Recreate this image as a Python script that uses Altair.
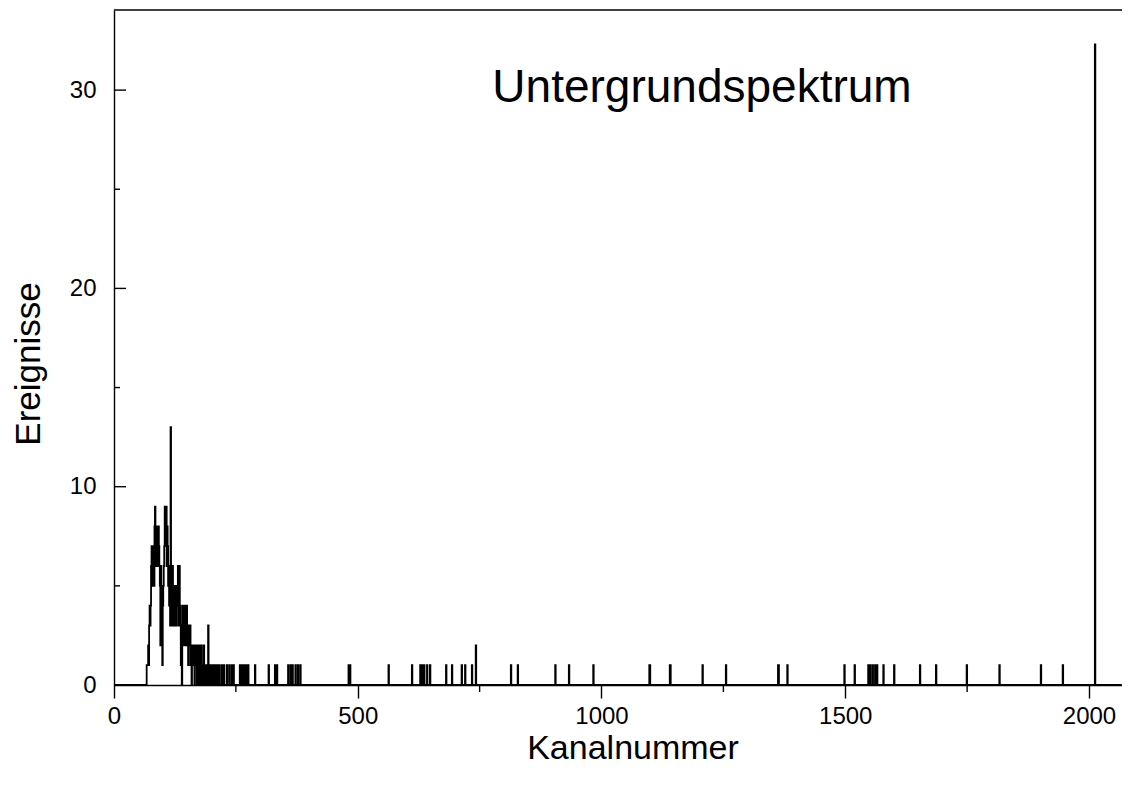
import altair as alt
import pandas as pd

# ---- data ----
TITLE = "Untergrundspektrum"
X_TITLE = "Kanalnummer"
Y_TITLE = "Ereignisse"

X_MAJOR = [0, 500, 1000, 1500, 2000]
X_MINOR = [250, 750, 1250, 1750]
Y_MAJOR = [0, 10, 20, 30]
Y_MINOR = [5, 15, 25]

# counts per channel in the dense low-energy region, starting at channel 66
DENSE_START = 66
DENSE_COUNTS = [
    0, 1, 1, 1, 2, 1, 3, 4, 3, 4,      # 66-75
    6, 7, 5, 7, 6, 7, 5, 8, 9, 6,      # 76-85
    7, 8, 7, 6, 7, 8, 7, 6, 5, 2,      # 86-95
    6, 4, 5, 1, 4, 5, 6, 7, 9, 7,      # 96-105
    8, 9, 6, 8, 7, 5, 6, 4, 5, 3,      # 106-115
    13, 4, 3, 5, 6, 3, 4, 5, 3, 4,     # 116-125
    5, 4, 3, 5, 4, 6, 4, 3, 6, 4,      # 126-135
    3, 1, 3, 0, 4, 3, 4, 2, 3, 4,      # 136-145
    3, 2, 3, 4, 2, 3, 1, 2, 3, 2,      # 146-155
    3, 1, 2, 0, 2, 1, 2, 1, 2, 0,      # 156-165
    1, 2, 1, 2, 0, 1, 2, 1, 0, 2,      # 166-175
    1, 0, 1, 2, 1, 0, 1, 0, 2, 1,      # 176-185
    0, 1, 0, 1, 0, 1, 0, 3, 1, 0,      # 186-195
    1, 0, 0, 1, 1, 0, 1, 1, 0, 1,      # 196-205
    1, 1, 0, 1, 1, 0, 1, 1, 1, 0,      # 206-215
    1, 0,                              # 216-217
]

# isolated events further up the spectrum
SPARSE_CHANNELS = [
    221, 225, 231, 236, 241, 245, 258, 261, 264, 268,
    272, 275, 289, 317, 330, 334, 357, 362, 366, 372,
    377, 382, 481, 484, 563, 611, 628, 632, 636, 642,
    648, 681, 693, 713, 720, 734, 742, 814, 828, 905,
    933, 983, 1098, 1099, 1140, 1141, 1207, 1255, 1362, 1363,
    1381, 1498, 1519, 1547, 1551, 1556, 1561, 1565, 1578, 1600,
    1653, 1686, 1749, 1816, 1901, 1946, 2012,
]
SPARSE_COUNTS = [
    1, 1, 1, 1, 1, 1, 1, 1, 1, 1,
    1, 1, 1, 1, 1, 1, 1, 1, 1, 1,
    1, 1, 1, 1, 1, 1, 1, 1, 1, 1,
    1, 1, 1, 1, 1, 1, 2, 1, 1, 1,
    1, 1, 1, 1, 1, 1, 1, 1, 1, 1,
    1, 1, 1, 1, 1, 1, 1, 1, 1, 1,
    1, 1, 1, 1, 1, 1, 32.3,
]

X_MAX = 2067.7
Y_MAX = 34.04
N_CHANNELS = 2068

# ---- build the channel table ----
counts = [0.0] * N_CHANNELS
for i, c in enumerate(DENSE_COUNTS):
    counts[DENSE_START + i] = c
for ch, c in zip(SPARSE_CHANNELS, SPARSE_COUNTS):
    counts[ch] = c
spec_df = pd.DataFrame({"Kanal": list(range(N_CHANNELS)), "Ereignisse": counts})

W, H = 1008, 675
FONT = "Liberation Sans"
LW = 1.4

xs = alt.Scale(domain=[0, X_MAX], nice=False, zero=False)
ys = alt.Scale(domain=[0, Y_MAX], nice=False, zero=False)

X_AXIS = alt.Axis(values=X_MAJOR, tickSize=13, labelPadding=6, title=None,
                  format="d", labelFlush=False, labelOverlap=False)
Y_AXIS = alt.Axis(values=Y_MAJOR, tickSize=0, labelPadding=18, title=None,
                  format="d", labelOverlap=False)

line = alt.Chart(spec_df).mark_line(
    interpolate="step-after", color="black", strokeWidth=1.8
).encode(
    x=alt.X("Kanal:Q", scale=xs, axis=X_AXIS),
    y=alt.Y("Ereignisse:Q", scale=ys, axis=Y_AXIS),
)

x_minor = alt.Chart(pd.DataFrame({"v": X_MINOR})).mark_rule(color="black", strokeWidth=LW).encode(
    x=alt.X("v:Q", scale=xs, axis=X_AXIS),
    y=alt.value(H),
    y2=alt.value(H + 7),
)

y_major = alt.Chart(pd.DataFrame({"v": Y_MAJOR})).mark_rule(color="black", strokeWidth=LW).encode(
    y=alt.Y("v:Q", scale=ys, axis=Y_AXIS),
    x=alt.value(0),
    x2=alt.value(12),
)

y_minor = alt.Chart(pd.DataFrame({"v": Y_MINOR})).mark_rule(color="black", strokeWidth=LW).encode(
    y=alt.Y("v:Q", scale=ys, axis=Y_AXIS),
    x=alt.value(0),
    x2=alt.value(6),
)

top_line = alt.Chart(pd.DataFrame({"a": [0]})).mark_rule(color="black", strokeWidth=LW).encode(
    x=alt.value(0),
    x2=alt.value(W),
    y=alt.value(0),
)

title_txt = alt.Chart(pd.DataFrame({"t": [TITLE]})).mark_text(
    font=FONT, fontSize=46, align="center", baseline="alphabetic", color="black"
).encode(text="t:N", x=alt.value(588), y=alt.value(92))

xtitle_txt = alt.Chart(pd.DataFrame({"t": [X_TITLE]})).mark_text(
    font=FONT, fontSize=34, align="center", baseline="middle", color="black"
).encode(text="t:N", x=alt.value(519), y=alt.value(739))

ytitle_txt = alt.Chart(pd.DataFrame({"t": [Y_TITLE]})).mark_text(
    font=FONT, fontSize=35, align="center", baseline="middle", angle=270, color="black"
).encode(text="t:N", x=alt.value(-85), y=alt.value(354))

chart = alt.layer(
    line, x_minor, y_major, y_minor, top_line, title_txt, xtitle_txt, ytitle_txt
).properties(
    width=W,
    height=H,
    autosize=alt.AutoSizeParams(type="none"),
    padding={"left": 106, "top": 2, "right": 0, "bottom": 86},
).configure_view(
    stroke=None
).configure_axis(
    domainColor="black",
    domainWidth=LW,
    tickColor="black",
    tickWidth=LW,
    grid=False,
    labelFont=FONT,
    labelFontSize=24,
    labelColor="black",
)

chart.save("out.html", embed_options={"renderer": "svg", "actions": False})
